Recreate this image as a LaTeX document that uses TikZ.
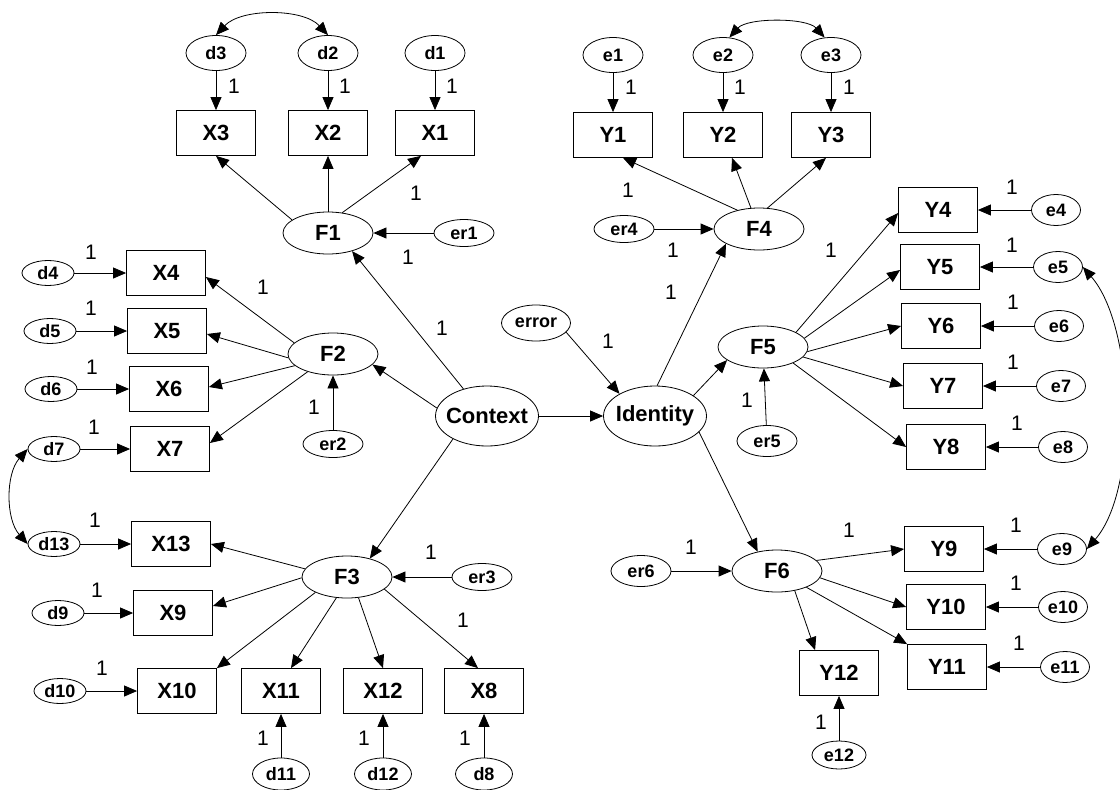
\documentclass[tikz,border=0pt]{standalone}
\usepackage{fontspec}
\setmainfont{Liberation Sans}
\usetikzlibrary{arrows.meta,calc,shapes.geometric}
\begin{document}
\begin{tikzpicture}[x=1pt,y=-1pt,
 arr/.style={-{Triangle[length=13pt,width=11pt]}, line width=0.8pt},
 dbl/.style={{Triangle[length=13pt,width=11pt]}-{Triangle[length=13pt,width=11pt]}, line width=0.8pt},
 obs/.style={draw, line width=0.8pt, rectangle, minimum width=79pt, minimum height=45pt, inner sep=0pt, font=\fontsize{22}{26}\selectfont\bfseries},
 lat/.style={draw, line width=0.8pt, ellipse, minimum width=90pt, minimum height=42pt, inner sep=0pt, font=\fontsize{22}{26}\selectfont\bfseries},
 big/.style={lat, minimum width=103pt, minimum height=60pt},
 err/.style={draw, line width=0.8pt, ellipse, inner sep=0pt, font=\fontsize{18}{21}\selectfont\bfseries},
 errtop/.style={err, minimum width=60pt, minimum height=35pt},
 errl/.style={err, minimum width=52pt, minimum height=25pt},
 errbot/.style={err, minimum width=57pt, minimum height=32pt},
 errr/.style={err, minimum width=49pt, minimum height=31pt},
 erf/.style={err, minimum width=60pt, minimum height=27pt},
 one/.style={font=\fontsize{21}{24}\selectfont, inner sep=0pt},
]
\useasboundingbox (0,0) rectangle (1120,790);

% ---- F1 block
\node[errtop] (d3) at (216,53) {d3};
\node[errtop] (d2) at (328,53) {d2};
\node[errtop] (d1) at (435,53) {d1};
\node[obs] (X3) at (216,133) {X3};
\node[obs] (X2) at (328,133) {X2};
\node[obs] (X1) at (435,133) {X1};
\node[lat] (F1) at (328,233) {F1};
\node[erf] (er1) at (464,233) {er1};

% ---- F2 block
\node[obs] (X4) at (166,273) {X4};
\node[obs] (X5) at (167,331) {X5};
\node[obs] (X6) at (169,389) {X6};
\node[obs] (X7) at (170,449) {X7};
\node[errl] (d4) at (48,273) {d4};
\node[errl] (d5) at (50,331) {d5};
\node[errl] (d6) at (51,389) {d6};
\node[errl] (d7) at (54,449) {d7};
\node[lat] (F2) at (333,354) {F2};
\node[erf] (er2) at (333,444) {er2};

% ---- centre
\node[big] (ctx) at (487,416) {\makebox[0pt]{Context}};
\node[big] (idt) at (655,416) {\makebox[0pt]{Identity}};
\node[err, minimum width=69pt, minimum height=36pt] (error) at (536,323) {error};

% ---- F3 block
\node[lat] (F3) at (347,577) {F3};
\node[erf] (er3) at (482,577) {er3};
\node[obs] (X13) at (171,544) {X13};
\node[obs] (X9) at (173,613) {X9};
\node[obs] (X10) at (177,691) {X10};
\node[obs] (X11) at (281,691) {X11};
\node[obs] (X12) at (383,691) {X12};
\node[obs] (X8) at (484,691) {X8};
\node[errl] (d13) at (54,544) {d13};
\node[errl] (d9) at (58,613) {d9};
\node[errl] (d10) at (60,691) {d10};
\node[errbot] (d11) at (281,774) {d11};
\node[errbot] (d12) at (383,774) {d12};
\node[errbot] (d8) at (484,774) {d8};

% ---- F4 block
\node[errtop] (e1) at (613,55) {e1};
\node[errtop] (e2) at (723,55) {e2};
\node[errtop] (e3) at (831,55) {e3};
\node[obs] (Y1) at (613,135) {Y1};
\node[obs] (Y2) at (723,135) {Y2};
\node[obs] (Y3) at (831,135) {Y3};
\node[lat] (F4) at (759,229) {F4};
\node[erf] (er4) at (624,229) {er4};

% ---- F5 block
\node[lat] (F5) at (763,347) {F5};
\node[erf, minimum height=31pt] (er5) at (767,441) {er5};
\node[obs] (Y4) at (938,210) {Y4};
\node[obs] (Y5) at (940,267) {Y5};
\node[obs] (Y6) at (941,326) {Y6};
\node[obs] (Y7) at (943,386) {Y7};
\node[obs] (Y8) at (946,447) {Y8};
\node[errr] (e4) at (1056,210) {e4};
\node[errr] (e5) at (1058,267) {e5};
\node[errr] (e6) at (1059,326) {e6};
\node[errr] (e7) at (1061,386) {e7};
\node[errr] (e8) at (1063,447) {e8};

% ---- F6 block
\node[lat] (F6) at (777,571) {F6};
\node[erf, minimum height=31pt] (er6) at (641,571) {er6};
\node[obs] (Y9) at (944,549) {Y9};
\node[obs] (Y10) at (946,607) {Y10};
\node[obs] (Y11) at (947,667) {Y11};
\node[obs] (Y12) at (839,673) {Y12};
\node[errr] (e9) at (1062,549) {e9};
\node[errr] (e10) at (1063,607) {e10};
\node[errr] (e11) at (1065,667) {e11};
\node[err, minimum width=54pt, minimum height=28pt] (e12) at (839,755) {e12};

% ---- connectors F1
\draw[arr] (d3) -- (X3);
\draw[arr] (d2) -- (X2);
\draw[arr] (d1) -- (X1);
\draw[arr] (F1.160) -- (X3.south);
\draw[arr] (F1.north) -- (X2.south);
\draw[arr] (F1.55) -- ($(X1.south)+(-14,0)$);
\draw[arr] (er1) -- (F1);
\draw[dbl] (d3.north) .. controls +(25,-27) and +(-25,-27) .. (d2.north);

% ---- connectors Context
\draw[arr] (ctx.131) -- (F1.-37);
\draw[arr] (ctx.171) -- (F2.-15);
\draw[arr] (ctx.214) -- (F3.39);
\draw[arr] (ctx) -- (idt);

% ---- F2
\draw[arr] (F2.164) -- ($(X4.east)+(0,4)$);
\draw[arr] (F2.185) -- ($(X5.east)+(0,3)$);
\draw[arr] (F2.197) -- ($(X6.east)+(0,-2)$);
\draw[arr] (F2.215) -- ($(X7.east)+(0,-6)$);
\draw[arr] (er2) -- (F2);
\draw[arr] (d4) -- (X4);
\draw[arr] (d5) -- (X5);
\draw[arr] (d6) -- (X6);
\draw[arr] (d7) -- (X7);
\draw[dbl] (d7.west) .. controls +(-22,25) and +(-22,-25) .. (d13.west);

% ---- F3
\draw[arr] (F3.169) -- (X13.east);
\draw[arr] (F3.181) -- ($(X9.east)+(0,-7)$);
\draw[arr] (F3.206) -- (X10.north east);
\draw[arr] (F3.243) -- ($(X11.north)+(10,0)$);
\draw[arr] (F3.299) -- (X12.north);
\draw[arr] (F3.342) -- ($(X8.north)+(-6,0)$);
\draw[arr] (er3) -- (F3);
\draw[arr] (d13) -- (X13);
\draw[arr] (d9) -- (X9);
\draw[arr] (d10) -- (X10);
\draw[arr] (d11) -- (X11);
\draw[arr] (d12) -- (X12);
\draw[arr] (d8) -- (X8);

% ---- Identity
\draw[arr] (error.-17) -- (idt.148);
\draw[arr] (idt.86) -- (F4.204);
\draw[arr] (idt.28) -- (F5.200);
\draw[arr] (idt.-20) -- (F6.135);

% ---- F4
\draw[arr] (F4.139) -- ($(Y1.south)+(10,0)$);
\draw[arr] (F4.111) -- ($(Y2.south)+(9,0)$);
\draw[arr] (F4.68) -- ($(Y3.south)+(-5,0)$);
\draw[arr] (er4) -- (F4);
\draw[arr] (e1) -- (Y1);
\draw[arr] (e2) -- (Y2);
\draw[arr] (e3) -- (Y3);
\draw[dbl] (e2.70) .. controls +(18,-20) and +(-18,-20) .. (e3.110);

% ---- F5
\draw[arr] (F5.24) -- ($(Y4.west)+(0,3)$);
\draw[arr] (F5.12) -- ($(Y5.west)+(0,3)$);
\draw[arr] (F5.-6) -- (Y6.west);
\draw[arr] (F5.-14) -- (Y7.west);
\draw[arr] (F5.-28) -- (Y8.west);
\draw[arr] (er5) -- (F5);
\draw[arr] (e4) -- (Y4);
\draw[arr] (e5) -- (Y5);
\draw[arr] (e6) -- (Y6);
\draw[arr] (e7) -- (Y7);
\draw[arr] (e8) -- (Y8);
\draw[dbl] (e5.east) .. controls +(52,60) and +(52,-60) .. (e9.east);

% ---- F6
\draw[arr] (F6.15) -- (Y9.west);
\draw[arr] (F6.-9) -- (Y10.west);
\draw[arr] (F6.-29) -- (Y11.north west);
\draw[arr] (F6.-48) -- ($(Y12.north west)+(16,0)$);
\draw[arr] (er6) -- (F6);
\draw[arr] (e9) -- (Y9);
\draw[arr] (e10) -- (Y10);
\draw[arr] (e11) -- (Y11);
\draw[arr] (e12) -- (Y12);

% ---- path coefficients
\foreach \p [count=\i] in {(234,86),(345,86),(452,86),(416,193),(408,257),(442,328),
  (263,287),(91,252),(91,308),(92,367),(94,427),(314,407),(95,520),(97,590),(102,668),
  (431,552),(463,620),(263,738),(364,738),(465,738),(608,341),(671,292),(631,87),(740,87),
  (849,87),(628,190),(673,250),(831,250),(1012,187),(1012,245),(1013,302),(1013,362),
  (1017,423),(747,400),(691,547),(849,530),(1016,525),(1016,583),(1019,643),(821,722)}
  \node[one] (l\i) at \p {1};
\end{tikzpicture}
\end{document}
